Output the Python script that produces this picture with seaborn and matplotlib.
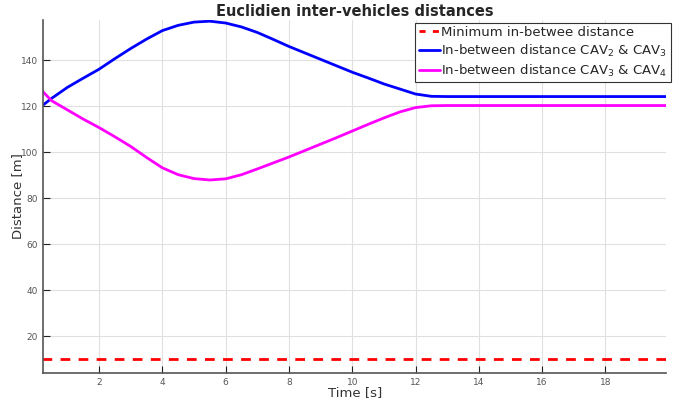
import numpy as np
import pandas as pd
import matplotlib
matplotlib.use('Agg')
import matplotlib.pyplot as plt
import seaborn as sns

# tempo [s]
time = [0.2, 0.5, 1.0, 1.5, 2.0, 2.5, 3.0, 3.5, 4.0, 4.5, 5.0, 5.5, 6.0, 6.5, 7.0,
        7.5, 8.0, 8.5, 9.0, 9.5, 10.0, 10.5, 11.0, 11.5, 12.0, 12.5, 13.0, 14.0,
        15.0, 16.0, 17.0, 18.0, 19.0, 20.0]

# distancia CAV2 - CAV3
dist_23 = [120.3, 123.5, 128.3, 132.3, 136.2, 140.8, 145.2, 149.3, 153.0, 155.3,
           156.7, 157.1, 156.3, 154.6, 152.2, 149.2, 146.1, 143.3, 140.5, 137.7,
           134.9, 132.4, 129.8, 127.6, 125.4, 124.4, 124.3, 124.3, 124.3, 124.3,
           124.3, 124.3, 124.3, 124.3]

# distancia CAV3 - CAV4
dist_34 = [126.8, 122.5, 118.5, 114.5, 110.8, 106.8, 102.6, 97.8, 93.3, 90.3,
           88.6, 88.0, 88.5, 90.3, 92.8, 95.4, 98.0, 100.8, 103.6, 106.4,
           109.3, 112.2, 115.0, 117.6, 119.5, 120.3, 120.4, 120.4, 120.4, 120.4,
           120.4, 120.4, 120.4, 120.4]

min_dist = 10

labels = ['Minimum in-betwee distance',
          'In-between distance CAV$_2$ & CAV$_3$',
          'In-between distance CAV$_3$ & CAV$_4$']

data = pd.DataFrame({'t': time, 'd23': dist_23, 'd34': dist_34})
data['dmin'] = min_dist

sns.set_style('whitegrid')
plt.rcParams['font.family'] = ['DejaVu Sans']

fig = plt.figure(figsize=(6.94, 4.09), dpi=100)
ax = fig.add_axes([0.062, 0.088, 0.898, 0.863])

sns.lineplot(data=data, x='t', y='dmin', ax=ax, color='#ff0000', linewidth=2,
             label=labels[0])
ax.lines[-1].set_dashes([3.5, 3])
sns.lineplot(data=data, x='t', y='d23', ax=ax, color='#0000ff', linewidth=2,
             label=labels[1])
sns.lineplot(data=data, x='t', y='d34', ax=ax, color='#ff00ff', linewidth=2,
             label=labels[2])

ax.set_xlim(0.23, 19.92)
ax.set_ylim(4, 157.6)
ax.set_xticks(range(2, 19, 2))
ax.set_yticks(range(20, 141, 20))
ax.grid(True, color='#e0e0e0', linewidth=0.8)

for s in ['top', 'right']:
    ax.spines[s].set_visible(False)
for s in ['left', 'bottom']:
    ax.spines[s].set_visible(True)
    ax.spines[s].set_color('#555555')
    ax.spines[s].set_linewidth(1.2)

ax.tick_params(direction='in', length=5, width=0.8, colors='#222222',
               labelsize=6.5, labelcolor='#555555', left=True, bottom=True)

ax.set_title('Euclidien inter-vehicles distances', fontsize=10.5,
             fontweight='bold', pad=3)
ax.set_xlabel('Time [s]', fontsize=9.5, color='#333333')
ax.set_ylabel('Distance [m]', fontsize=9.5, color='#333333')
ax.yaxis.set_label_coords(-0.03, 0.5)
ax.xaxis.set_label_coords(0.5, -0.038)

leg = ax.legend(loc='upper right', bbox_to_anchor=(1.007, 0.993),
                fontsize=9.5, frameon=True, fancybox=False, framealpha=1,
                handlelength=1.6, handletextpad=0.1, borderpad=0.25,
                labelspacing=0.3, borderaxespad=0)
leg.get_frame().set_edgecolor('#333333')
leg.get_frame().set_linewidth(0.8)
leg.get_lines()[0].set_dashes([2.2, 2.6])

plt.savefig('out.png', dpi=100)
